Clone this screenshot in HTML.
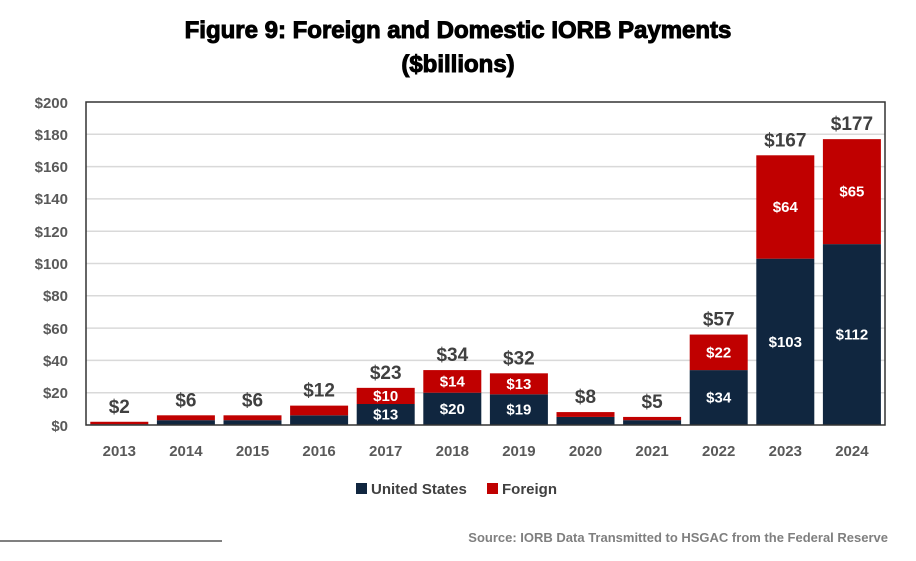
<!DOCTYPE html>
<html><head><meta charset="utf-8"><style>
body{margin:0;background:#fff;width:916px;height:556px;overflow:hidden;font-family:"Liberation Sans",sans-serif}
</style></head><body>
<svg width="916" height="556" xmlns="http://www.w3.org/2000/svg" font-family="Liberation Sans, sans-serif">
<text x="458" y="38" text-anchor="middle" font-size="24" font-weight="bold" fill="#000" stroke="#000" stroke-width="1">Figure 9: Foreign and Domestic IORB Payments</text>
<text x="458" y="72" text-anchor="middle" font-size="24" font-weight="bold" fill="#000" stroke="#000" stroke-width="1">($billions)</text>
<g stroke="#d9d9d9" stroke-width="1.5">
<line x1="86" x2="885" y1="134.3" y2="134.3"/><line x1="86" x2="885" y1="166.6" y2="166.6"/><line x1="86" x2="885" y1="198.9" y2="198.9"/><line x1="86" x2="885" y1="231.2" y2="231.2"/><line x1="86" x2="885" y1="263.5" y2="263.5"/><line x1="86" x2="885" y1="295.8" y2="295.8"/><line x1="86" x2="885" y1="328.1" y2="328.1"/><line x1="86" x2="885" y1="360.4" y2="360.4"/><line x1="86" x2="885" y1="392.7" y2="392.7"/>
</g>
<g font-size="15" font-weight="bold" fill="#595959" text-anchor="end">
<text x="68" y="108">$200</text><text x="68" y="140">$180</text><text x="68" y="172">$160</text><text x="68" y="204">$140</text><text x="68" y="237">$120</text><text x="68" y="269">$100</text><text x="68" y="301">$80</text><text x="68" y="334">$60</text><text x="68" y="366">$40</text><text x="68" y="398">$20</text><text x="68" y="431">$0</text>
</g>
<g id="bars"></g>
<rect x="86" y="102" width="799" height="323" fill="none" stroke="#333" stroke-width="1.5"/>
<g font-size="15" font-weight="bold" fill="#595959" text-anchor="middle" id="xl"></g>
<g id="lab"></g>
<rect x="356" y="483" width="11" height="11" fill="#10263f"/>
<text x="371" y="494" font-size="15" font-weight="bold" fill="#404040">United States</text>
<rect x="487" y="483" width="11" height="11" fill="#c00000"/>
<text x="502" y="494" font-size="15" font-weight="bold" fill="#404040">Foreign</text>
<line x1="0" y1="541" x2="222" y2="541" stroke="#000" stroke-width="1"/>
<text x="888" y="542" text-anchor="end" font-size="13" font-weight="bold" fill="#7f7f7f">Source: IORB Data Transmitted to HSGAC from the Federal Reserve</text>
</svg>
<script>
var d=[[2013,0.5,1.5,"$2"],[2014,3,3,"$6"],[2015,3,3,"$6"],[2016,6,6,"$12"],[2017,13,10,"$23"],[2018,20,14,"$34"],[2019,19,13,"$32"],[2020,5,3,"$8"],[2021,3,2,"$5"],[2022,34,22,"$57"],[2023,103,64,"$167"],[2024,112,65,"$177"]];
var ns="http://www.w3.org/2000/svg",b=document.getElementById("bars"),xl=document.getElementById("xl"),lab=document.getElementById("lab");
function el(p,t,a,tx){var e=document.createElementNS(ns,t);for(var k in a)e.setAttribute(k,a[k]);if(tx)e.textContent=tx;p.appendChild(e);return e;}
var u=1.615,base=425;
d.forEach(function(r,i){var c=86+33.3+66.6*i,x=c-29;
var hu=r[1]*u,hf=r[2]*u;
el(b,"rect",{x:x,y:base-hu,width:58,height:hu,fill:"#10263f"});
el(b,"rect",{x:x,y:base-hu-hf,width:58,height:hf,fill:"#c00000"});
el(xl,"text",{x:c,y:456},r[0]);
var top=base-hu-hf;
el(lab,"text",{x:c,y:top-9,"text-anchor":"middle","font-size":"19",fill:"#404040","font-weight":"bold"},r[3]);
if(r[1]>=13){el(lab,"text",{x:c,y:base-hu/2+5,"text-anchor":"middle","font-size":"15","font-weight":"bold",fill:"#fff"},"$"+r[1]);
el(lab,"text",{x:c,y:base-hu-hf/2+5,"text-anchor":"middle","font-size":"15","font-weight":"bold",fill:"#fff"},"$"+r[2]);}
});
</script>
</body></html>
